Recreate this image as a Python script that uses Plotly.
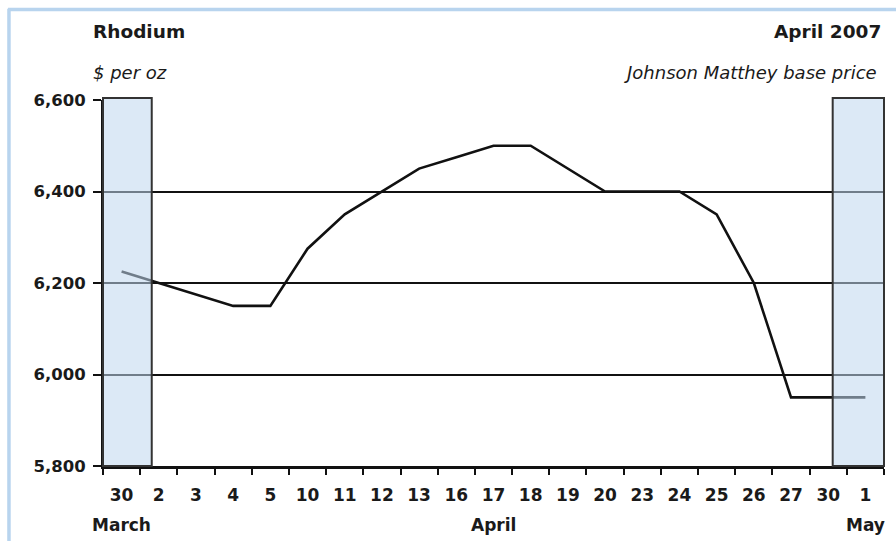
import plotly.graph_objects as go

# Rhodium, Johnson Matthey base price, daily fixes around April 2007
months = ["March"] + ["April"] * 19 + ["May"]
days = ["30", "2", "3", "4", "5", "10", "11", "12", "13", "16", "17",
        "18", "19", "20", "23", "24", "25", "26", "27", "30", "1"]
prices = [6225, 6200, 6175, 6150, 6150, 6275, 6350, 6400, 6450, 6475, 6500,
          6500, 6450, 6400, 6400, 6400, 6350, 6200, 5950, 5950, 5950]
y_ticks = [5800, 6000, 6200, 6400, 6600]

# unique category keys, labelled with the day number only
keys = [f"{m[:3]} {d}" for m, d in zip(months, days)]

FONT = "DejaVu Sans"
INK = "#1a1a1a"

fig = go.Figure()
fig.add_trace(go.Scatter(
    x=keys,
    y=prices,
    mode="lines",
    line=dict(color="#111111", width=2.6),
    hoverinfo="skip",
    showlegend=False,
))

# translucent panels marking the days outside April
panel = dict(type="rect", xref="paper", yref="paper", layer="above",
             fillcolor="rgba(191,215,238,0.55)",
             line=dict(color="#333333", width=2))
shapes = [
    dict(panel, x0=0.0, x1=0.0624, y0=0.0, y1=1.0055),
    dict(panel, x0=0.9343, x1=1.0, y0=0.0, y1=1.0055),
    # light blue frame along the top and left
    dict(type="line", xref="paper", yref="paper", x0=-0.1216, x1=1.02,
         y0=1.247, y1=1.247, line=dict(color="#b8d4ee", width=3.5)),
    dict(type="line", xref="paper", yref="paper", x0=-0.1204, x1=-0.1204,
         y0=1.249, y1=-0.25, line=dict(color="#b8d4ee", width=3.5)),
]

title_font = dict(family=FONT, size=18.5, color=INK, weight="bold")
sub_font = dict(family=FONT, size=18, color=INK, style="italic")
month_font = dict(family=FONT, size=17, color=INK, weight="bold")
annotations = [
    dict(text="Rhodium", x=-0.016, y=1.186, xanchor="left", yanchor="middle",
         font=title_font),
    dict(text="April 2007", x=0.9987, y=1.186, xanchor="right", yanchor="middle",
         font=title_font),
    dict(text="$ per oz", x=-0.016, y=1.074, xanchor="left", yanchor="middle",
         font=sub_font),
    dict(text="Johnson Matthey base price", x=0.9936, y=1.074, xanchor="right",
         yanchor="middle", font=sub_font),
]
for a in annotations:
    a.update(xref="paper", yref="paper")

# month names centred under each month's run of days
for name in ["March", "April", "May"]:
    idx = [i for i, m in enumerate(months) if m == name]
    annotations.append(dict(
        text=name, x=keys[idx[len(idx) // 2]], xref="x",
        y=-0.161, yref="paper", xanchor="center", yanchor="middle",
        font=month_font,
    ))
for a in annotations:
    a["showarrow"] = False

fig.update_layout(
    width=896, height=541,
    margin=dict(l=103, r=12, t=100, b=75),
    paper_bgcolor="white",
    plot_bgcolor="white",
    shapes=shapes,
    annotations=annotations,
    xaxis=dict(
        type="category",
        tickvals=keys, ticktext=days,
        tickson="boundaries",
        automargin=False,
        range=[-0.5, len(keys) - 0.5],
        showgrid=False,
        showline=True, linecolor="#111111", linewidth=2.5,
        ticks="outside", ticklen=6, tickwidth=1.5, tickcolor="#111111",
        ticklabelstandoff=12,
        tickfont=dict(family=FONT, size=17, color=INK, weight="bold"),
    ),
    yaxis=dict(
        range=[5800, 6600],
        tickvals=y_ticks,
        tickformat=",",
        automargin=False,
        showgrid=True, gridcolor="#111111", gridwidth=1.5,
        zeroline=False,
        showline=True, linecolor="#111111", linewidth=2,
        ticks="outside", ticklen=8, tickwidth=1.5, tickcolor="#111111",
        ticklabelstandoff=4,
        tickfont=dict(family=FONT, size=16.5, color=INK, weight="bold"),
    ),
)

fig.write_html("out.html")
